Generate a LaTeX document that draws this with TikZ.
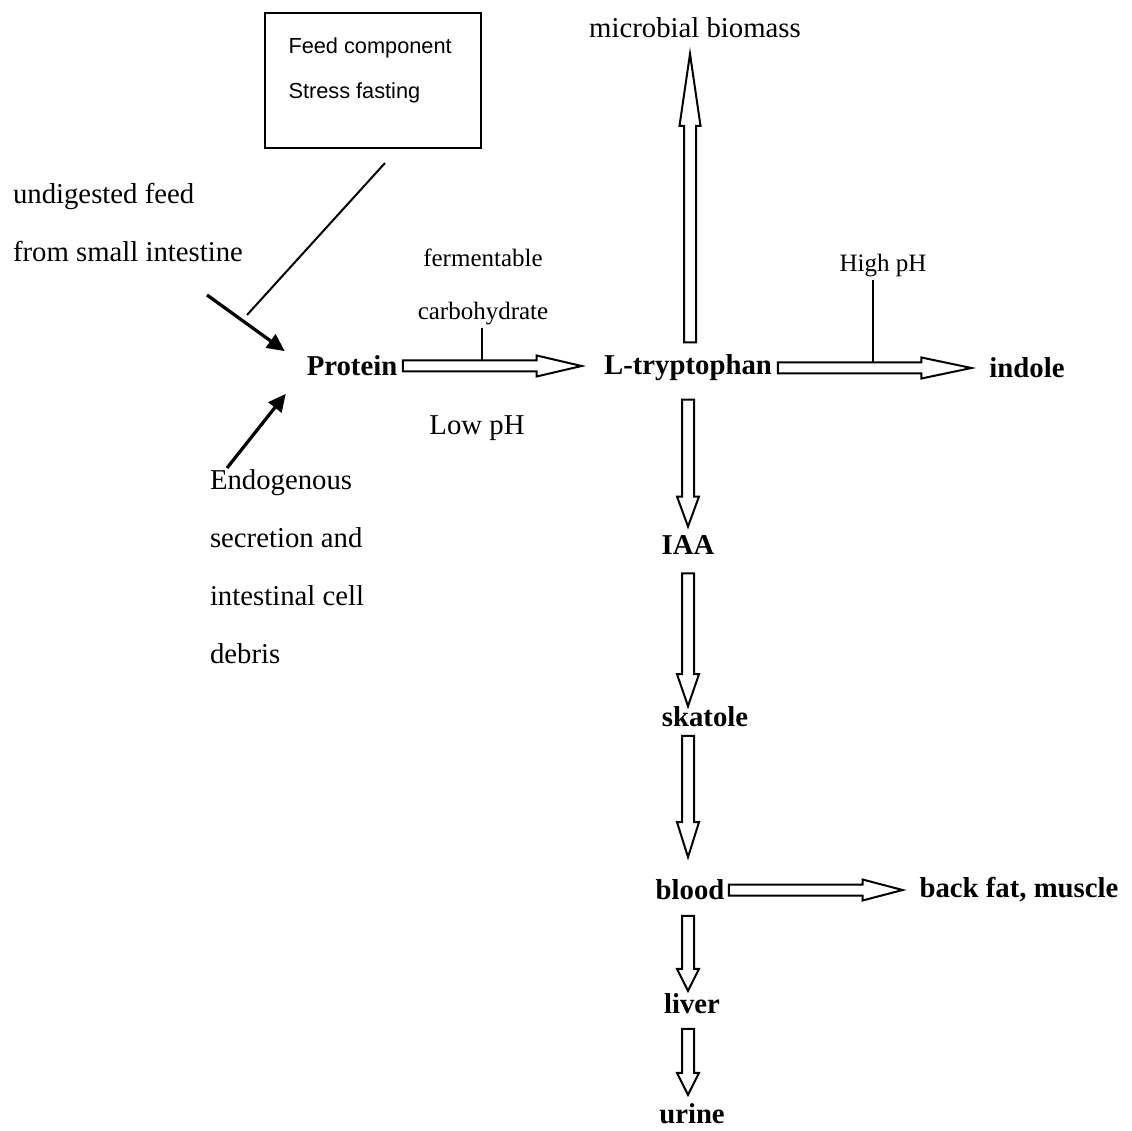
\documentclass[tikz,border=0pt]{standalone}
\usepackage{fontspec}
\setmainfont{Liberation Serif}
\newfontfamily\boxfont{Liberation Sans}
\usepackage{tikz}
\usetikzlibrary{arrows.meta, positioning, calc}

\tikzset{
  fat half/.store in=\fatw, fat head/.store in=\fathw, fat len/.store in=\fathl,
  fat half=2.2pt, fat head=4.2pt, fat len=18pt,
  fat/.style={draw, line width=0.8pt, line join=miter, to path={
    let \p1=(\tikztostart), \p2=(\tikztotarget), \p3=($(\p2)!\fathl!(\p1)$) in
    ($(\p1)!\fatw!90:(\p2)$) -- ($(\p3)!\fatw!-90:(\p1)$) -- ($(\p3)!\fathw!-90:(\p1)$)
    -- (\p2) -- ($(\p3)!\fathw!90:(\p1)$) -- ($(\p3)!\fatw!90:(\p1)$)
    -- ($(\p1)!\fatw!-90:(\p2)$) -- cycle}},
  vfat/.style={fat, fat half=2.4pt, fat head=4.4pt},
  chemlbl/.style={inner sep=1pt, font=\fontsize{11.5pt}{14pt}\selectfont\bfseries},
  notelbl/.style={inner sep=1pt, align=left, font=\fontsize{11.5pt}{23.2pt}\selectfont},
  smalllbl/.style={inner sep=1pt, align=center, font=\fontsize{10pt}{21.2pt}\selectfont},
  tickline/.style={line width=0.8pt},
  feedarrow/.style={line width=1.3pt, -{Triangle[length=7pt, width=6.5pt]}}
}

\begin{document}
\begin{tikzpicture}[x=0.4pt, y=-0.4pt]
  \useasboundingbox (0,0) rectangle (1132,1131);

  % factors box
  \node[draw, line width=0.8pt, minimum width=86.4pt, minimum height=54pt] (box) at (373,80.5) {};
  \node[anchor=west, inner sep=0pt, align=left, font=\boxfont\fontsize{8.7pt}{18pt}\selectfont] (boxtxt) at (288,70) {Feed component\\Stress fasting};

  % sources
  \node[notelbl, anchor=west] (undig) at (10,223) {undigested feed\\from small intestine};
  \node[notelbl, anchor=west] (endo) at (207,567) {Endogenous\\secretion and\\intestinal cell\\debris};

  % compounds
  \node[notelbl] (biomass) at (695,28) {microbial biomass};
  \node[chemlbl] (prot) at (352,366) {Protein};
  \node[chemlbl] (trp) at (688,368) {L-tryptophan};
  \node[chemlbl] (indole) at (1027,368) {indole};
  \node[chemlbl] (iaa) at (688,545) {IAA};
  \node[chemlbl] (skatole) at (705,717) {skatole};
  \node[chemlbl] (blood) at (690,890) {blood};
  \node[chemlbl] (backfat) at (1019,890) {back fat, muscle};
  \node[chemlbl] (liver) at (692,1004) {liver};
  \node[chemlbl] (urine) at (692,1114) {urine};

  % conditions
  \node[smalllbl] (ferm) at (483,287) {fermentable\\carbohydrate};
  \node[smalllbl] (highph) at (883,266) {High pH};
  \node[notelbl] (lowph) at (477,428) {Low pH};

  % inputs to protein
  \coordinate (undigtail) at (207,295);
  \coordinate (endotail) at (227,468);
  \coordinate (boxlink) at (247,315);
  \draw[feedarrow] (undigtail) -- ($(prot.north west)+(-7.6pt,0.7pt)$);
  \draw[feedarrow] (endotail) -- ($(prot.south west)+(-7.2pt,-5.9pt)$);
  \draw[tickline] ($(box.south)+(4.8pt,-5.6pt)$) -- (boxlink);

  % hollow pathway arrows
  \draw[fat] ($(prot.east)+(1pt,0)$) to ($(prot.east -| trp.west)+(-7.8pt,0)$);
  \draw[fat, fat len=20pt] ($(trp.east)+(1.2pt,0)$) to ($(trp.east -| indole.west)+(-6pt,0)$);
  \draw[vfat, fat head=4.2pt, fat len=28.8pt] ($(trp.north)+(0.8pt,3.8pt)$) to ($(trp.north |- biomass.south)+(0.8pt,-5.1pt)$);
  \draw[vfat, fat len=12pt] ($(trp.south)+(0,-6.2pt)$) to ($(trp.south |- iaa.north)+(0,2.4pt)$);
  \draw[vfat, fat len=12.8pt] ($(iaa.south)+(0,-6.4pt)$) to ($(iaa.south |- skatole.north)+(0,-0.9pt)$);
  \draw[vfat, fat len=14pt] ($(iaa.south |- skatole.south)+(0,-2.3pt)$) to ($(iaa.south |- blood.north)+(0,7.9pt)$);
  \draw[vfat, fat len=8.8pt] ($(iaa.south |- blood.south)+(0,-5.1pt)$) to ($(iaa.south |- liver.north)+(0,0pt)$);
  \draw[vfat, fat len=8.8pt] ($(iaa.south |- liver.south)+(0,-4.7pt)$) to ($(iaa.south |- urine.north)+(0,2.4pt)$);
  \draw[fat, fat len=16pt] ($(blood.east)+(0.6pt,0)$) to ($(blood.east -| backfat.west)+(-5.6pt,0)$);

  % condition ticks
  \coordinate (carbtick) at (482,361);
  \coordinate (hphtick) at (873,363);
  \draw[tickline] (carbtick |- ferm.south) -- (carbtick);
  \draw[tickline] (hphtick |- highph.south) -- (hphtick);
\end{tikzpicture}
\end{document}
